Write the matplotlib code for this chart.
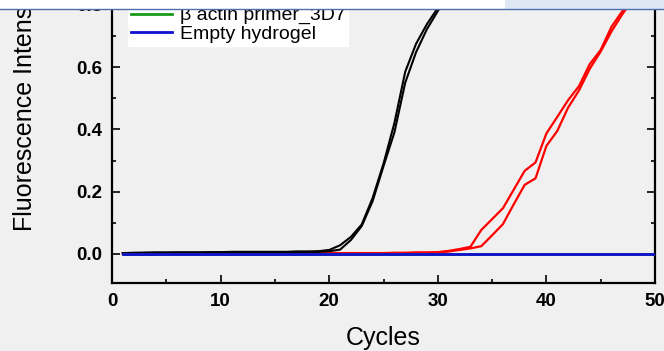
import matplotlib
matplotlib.use("Agg")
import matplotlib.pyplot as plt
from matplotlib.patches import Rectangle
from matplotlib.lines import Line2D
from matplotlib.ticker import MultipleLocator

plt.rcParams['font.family'] = ['Liberation Sans', 'DejaVu Sans']

# ---- data ----
cycles_black = list(range(1, 33))
black_a = [0.003, 0.004, 0.004, 0.005, 0.005, 0.005, 0.005, 0.005, 0.006, 0.006,
           0.007, 0.007, 0.007, 0.007, 0.007, 0.007, 0.008, 0.008, 0.009, 0.013,
           0.028, 0.055, 0.095, 0.180, 0.290, 0.420, 0.585, 0.675, 0.738, 0.790,
           0.840, 0.880]
black_b = [0.002, 0.003, 0.004, 0.004, 0.004, 0.005, 0.005, 0.005, 0.005, 0.005,
           0.006, 0.006, 0.006, 0.006, 0.006, 0.006, 0.007, 0.007, 0.007, 0.009,
           0.014, 0.045, 0.090, 0.170, 0.282, 0.390, 0.550, 0.648, 0.722, 0.780,
           0.830, 0.870]

cycles_red = list(range(1, 49))
red_a = [0.002, 0.003, 0.003, 0.003, 0.003, 0.003, 0.003, 0.003, 0.003, 0.003,
         0.003, 0.003, 0.003, 0.003, 0.003, 0.003, 0.003, 0.003, 0.003, 0.003,
         0.003, 0.003, 0.003, 0.003, 0.003, 0.004, 0.004, 0.005, 0.005, 0.006,
         0.010, 0.016, 0.023, 0.077, 0.112, 0.147, 0.207, 0.267, 0.294, 0.387,
         0.440, 0.494, 0.539, 0.610, 0.655, 0.730, 0.780, 0.830]
red_b = [0.002, 0.002, 0.002, 0.002, 0.002, 0.002, 0.002, 0.002, 0.002, 0.002,
         0.002, 0.002, 0.002, 0.002, 0.002, 0.002, 0.002, 0.002, 0.002, 0.002,
         0.002, 0.002, 0.002, 0.002, 0.002, 0.003, 0.003, 0.004, 0.004, 0.005,
         0.008, 0.013, 0.018, 0.025, 0.060, 0.096, 0.160, 0.222, 0.243, 0.347,
         0.395, 0.470, 0.525, 0.595, 0.650, 0.715, 0.770, 0.820]

cycles_flat = list(range(1, 51))
green_vals = [0.0] * 50
blue_vals = [0.0] * 50

legend_labels = ["\u03b2 actin primer_3D7", "Empty hydrogel"]
xlabel = "Cycles"
ylabel = "Fluorescence Intensity (a.u.)"

# ---- figure ----
W, H = 664, 351
fig = plt.figure(figsize=(W / 100, H / 100), dpi=100)
bg = '#f0f0f0'
fig.patch.set_facecolor(bg)

# axes geometry (pixels)
x_left, x_right = 112, 655
y_bottom_px = 283
y0_px = 254
px_per_unit = 311.5
ymin = -(y_bottom_px - y0_px) / px_per_unit
ymax = 1.0
top_px = y0_px - ymax * px_per_unit
ax = fig.add_axes([x_left / W, 1 - y_bottom_px / H, (x_right - x_left) / W,
                   (y_bottom_px - top_px) / H])
ax.set_facecolor(bg)

ax.plot(cycles_black, black_a, color='black', lw=1.5, zorder=3)
ax.plot(cycles_black, black_b, color='black', lw=1.5, zorder=3)
ax.plot(cycles_red, red_a, color='#ff0000', lw=1.6, zorder=2)
ax.plot(cycles_red, red_b, color='#ff0000', lw=1.6, zorder=2)
ax.plot(cycles_flat, green_vals, color='#1a9a1a', lw=2, zorder=4)
ax.plot(cycles_flat, blue_vals, color='#1010d0', lw=2, zorder=5)

ax.set_xlim(0, 50)
ax.set_ylim(ymin, ymax)
ax.xaxis.set_major_locator(MultipleLocator(10))
ax.xaxis.set_minor_locator(MultipleLocator(5))
ax.yaxis.set_major_locator(MultipleLocator(0.2))
ax.yaxis.set_minor_locator(MultipleLocator(0.1))
ax.yaxis.set_major_formatter(plt.FuncFormatter(lambda v, p: f"{v:.1f}"))

for s in ax.spines.values():
    s.set_linewidth(1.6)
ax.tick_params(which='both', direction='in', top=True, right=True, width=1.2)
ax.tick_params(which='major', length=5.5, labelsize=13.5, pad=7)
ax.tick_params(which='minor', length=3)
for lab in ax.get_xticklabels() + ax.get_yticklabels():
    lab.set_fontweight('bold')

fig.text(383 / W, 1 - 338 / H, xlabel, fontsize=18, ha='center', va='center')
fig.text(25 / W, 1 - 231 / H, ylabel, fontsize=18, ha='center', va='bottom',
         rotation=90)

handles = [Line2D([], [], color='#1a9a1a', lw=2), Line2D([], [], color='#1010d0', lw=2)]
leg = fig.legend(handles, legend_labels, loc='lower left',
                 bbox_to_anchor=(128 / W, 1 - 46 / H), fontsize=14,
                 frameon=True, fancybox=False, framealpha=1, edgecolor='white',
                 facecolor='white', handlelength=2.1, handletextpad=0.4,
                 labelspacing=0.05, borderpad=0.15, borderaxespad=0)

# top UI strip
fig.add_artist(Rectangle((0, 1 - 8.5 / H), 505 / W, 8.5 / H, transform=fig.transFigure,
                         facecolor='white', edgecolor='none', zorder=20))
fig.add_artist(Rectangle((505 / W, 1 - 8.5 / H), 1 - 505 / W, 8.5 / H,
                         transform=fig.transFigure, facecolor='#dfe7f4',
                         edgecolor='none', zorder=20))
fig.add_artist(Line2D([0, 1], [1 - 8.5 / H, 1 - 8.5 / H], transform=fig.transFigure,
                      color='#4d6fae', lw=1.0, zorder=21))

fig.savefig('out.png', dpi=100, facecolor=fig.get_facecolor())
